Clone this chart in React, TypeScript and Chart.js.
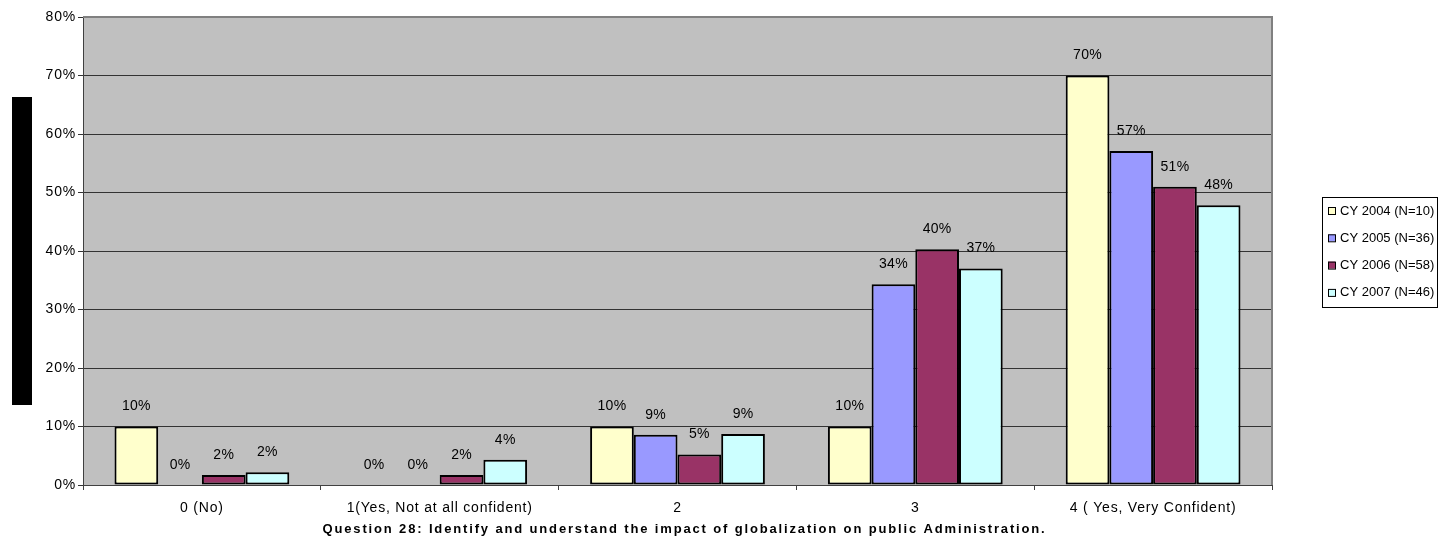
import React, { useEffect, useRef } from "react";
import { Chart, registerables } from "chart.js";

Chart.register(...registerables);

const categories = ["0 (No)", "1(Yes, Not at all confident)", "2", "3", "4 ( Yes, Very Confident)"];
const seriesNames = ["CY 2004 (N=10)", "CY 2005 (N=36)", "CY 2006 (N=58)", "CY 2007 (N=46)"];
const cy2004 = [10, 0, 10, 10, 70];
const cy2005 = [0, 0, 8.6, 34.3, 57.1];
const cy2006 = [1.7, 1.7, 5.2, 40.3, 51.0];
const cy2007 = [2.2, 4.3, 8.7, 37.0, 47.8];
const seriesColors = ["#FFFFCC", "#9999FF", "#993366", "#CCFFFF"];
const xTitle = "Question 28: Identify and understand the impact of globalization on public Administration.";

const FONT = "Arial, 'Liberation Sans', sans-serif";

const decorPlugin = {
  id: "decor",
  beforeDraw(chart: any) {
    const { ctx, chartArea } = chart;
    ctx.save();
    ctx.fillStyle = "#ffffff";
    ctx.fillRect(0, 0, chart.width, chart.height);
    ctx.fillStyle = "#C0C0C0";
    ctx.fillRect(chartArea.left, chartArea.top, chartArea.right - chartArea.left, chartArea.bottom - chartArea.top);
    ctx.restore();
    (ctx as any).letterSpacing = "0.8px";
  },
  afterDraw(chart: any) {
    const { ctx, chartArea } = chart;
    ctx.save();
    // plot border top/right
    ctx.strokeStyle = "#808080";
    ctx.lineWidth = 2;
    ctx.beginPath();
    ctx.moveTo(chartArea.left, chartArea.top);
    ctx.lineTo(chartArea.right, chartArea.top);
    ctx.lineTo(chartArea.right, chartArea.bottom);
    ctx.stroke();

    // data labels
    ctx.fillStyle = "#000";
    ctx.font = "14px " + FONT;
    (ctx as any).letterSpacing = "0.3px";
    ctx.textAlign = "center";
    ctx.textBaseline = "middle";
    chart.data.datasets.forEach((ds: any, i: number) => {
      const meta = chart.getDatasetMeta(i);
      meta.data.forEach((bar: any, j: number) => {
        const v = ds.data[j];
        ctx.fillText(Math.round(v) + "%", bar.x, bar.y - 20);
      });
    });

    // black box artifact (rotated axis title)
    ctx.fillStyle = "#000";
    ctx.fillRect(12, 97, 20, 308);

    // x title, stretched with letter spacing to Excel-like width
    ctx.font = "bold 13px " + FONT;
    (ctx as any).letterSpacing = "0px";
    const w0 = ctx.measureText(xTitle).width;
    const sp = (722 - w0) / (xTitle.length - 1);
    (ctx as any).letterSpacing = sp.toFixed(2) + "px";
    ctx.textAlign = "left";
    ctx.textBaseline = "middle";
    ctx.fillText(xTitle, (chartArea.left + chartArea.right) / 2 + 6 - 361, 529);
    (ctx as any).letterSpacing = "0px";

    // legend
    const lx = 1322, ly = 197, lw = 115, lh = 110;
    ctx.fillStyle = "#ffffff";
    ctx.fillRect(lx, ly, lw, lh);
    ctx.strokeStyle = "#000";
    ctx.lineWidth = 1;
    ctx.strokeRect(lx + 0.5, ly + 0.5, lw, lh);
    ctx.font = "13px " + FONT;
    ctx.textAlign = "left";
    ctx.textBaseline = "middle";
    seriesNames.forEach((name, i) => {
      const y = ly + 14 + i * 27.3;
      ctx.fillStyle = seriesColors[i];
      ctx.fillRect(lx + 6, y - 4, 7, 7);
      ctx.strokeStyle = "#000";
      ctx.strokeRect(lx + 6.5, y - 3.5, 7, 7);
      ctx.fillStyle = "#000";
      ctx.fillText(name, lx + 18, y);
    });
    ctx.restore();
  },
};

export default function App() {
  const ref = useRef<HTMLCanvasElement>(null);
  useEffect(() => {
    document.body.style.margin = "0";
    const lists = [cy2004, cy2005, cy2006, cy2007];
    const chart = new Chart(ref.current as HTMLCanvasElement, {
      type: "bar",
      data: {
        labels: categories,
        datasets: lists.map((d, i) => ({
          label: seriesNames[i],
          data: d,
          backgroundColor: seriesColors[i],
          borderColor: "#000000",
          borderWidth: 2,
          borderSkipped: false,
          barPercentage: 1,
          categoryPercentage: 0.735,
        })),
      },
      options: {
        responsive: false,
        animation: false,
        devicePixelRatio: 1,
        layout: { padding: { top: 17, right: 172, left: 0, bottom: 0 } },
        plugins: { legend: { display: false }, tooltip: { enabled: false } },
        scales: {
          x: {
            afterFit: (s: any) => { s.height = 61; },
            grid: { offset: true, drawOnChartArea: false, drawTicks: true, tickLength: 5, color: "#404040" },
            border: { color: "#404040", width: 1 },
            ticks: { color: "#000", padding: 10, font: { family: FONT, size: 14 }, maxRotation: 0, autoSkip: false },
          },
          y: {
            min: 0,
            max: 80,
            afterFit: (s: any) => { s.width = 83; },
            grid: { color: "#333333", lineWidth: 1, drawTicks: true, tickLength: 5 },
            border: { color: "#404040", width: 1 },
            ticks: {
              stepSize: 10,
              color: "#000",
              padding: 2,
              font: { family: FONT, size: 14 },
              callback: (v: any) => v + "%",
            },
          },
        },
      },
      plugins: [decorPlugin],
    });
    return () => chart.destroy();
  }, []);
  return <canvas ref={ref} width={1444} height={546} />;
}
